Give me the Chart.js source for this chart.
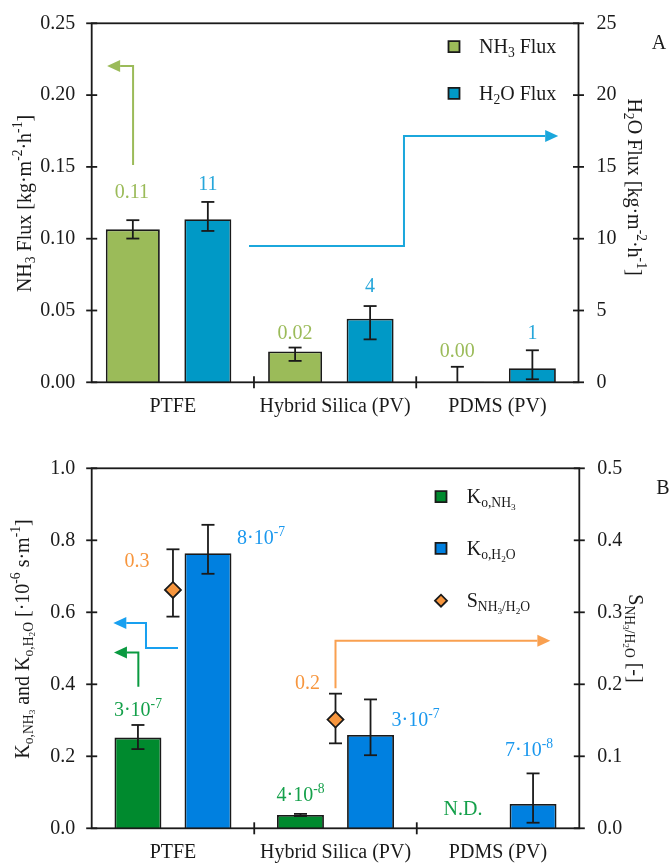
<!DOCTYPE html>
<html>
<head>
<meta charset="utf-8">
<title>NH3 and H2O flux, mass transfer coefficients</title>
<script src="https://cdn.jsdelivr.net/npm/chart.js@4.4.1/dist/chart.umd.min.js"></script>
<style>
	body { margin: 0; background: #fff; }
	canvas { position: absolute; left: 0; }
	#fluxChart { top: 0; }
	#kChart { top: 430px; }
</style>
</head>
<body>
<canvas id="fluxChart" width="669" height="430"></canvas>
<canvas id="kChart" width="669" height="433"></canvas>
<script>
const categories = ['PTFE', 'Hybrid Silica (PV)', 'PDMS (PV)']

// panel A - fluxes
const nh3Flux = [0.1065, 0.0214, 0.0003]
const nh3FluxErrUp = [0.0064, 0.0028, 0.0105]
const nh3FluxErrDown = [0.0064, 0.0065, 0]
const nh3FluxLabels = ['0.11', '0.02', '0.00']
const h2oFlux = [11.35, 4.43, 0.98]
const h2oFluxErrUp = [1.21, 0.88, 1.25]
const h2oFluxErrDown = [0.81, 1.44, 0.77]
const h2oFluxLabels = ['11', '4', '1']
const nh3FluxTicks = [0, 0.05, 0.1, 0.15, 0.2, 0.25]
const h2oFluxTicks = [0, 5, 10, 15, 20, 25]

// panel B - overall mass transfer coefficients and selectivity
const kNh3 = [0.252, 0.037, null]
const kNh3ErrUp = [0.035, 0.003, 0]
const kNh3ErrDown = [0.032, 0.003, 0]
const kNh3Labels = ['3·10^{-7}', '4·10^{-8}', 'N.D.']
const kH2o = [0.764, 0.259, 0.0675]
const kH2oErrUp = [0.079, 0.099, 0.085]
const kH2oErrDown = [0.057, 0.056, 0.052]
const kH2oLabels = ['8·10^{-7}', '3·10^{-7}', '7·10^{-8}']
const selectivity = [0.331, 0.151, null]
const selectivityErrUp = [0.0565, 0.036, 0]
const selectivityErrDown = [0.037, 0.033, 0]
const selectivityLabels = ['0.3', '0.2', '']
const kTicks = [0, 0.2, 0.4, 0.6, 0.8, 1.0]
const selectivityTicks = [0, 0.1, 0.2, 0.3, 0.4, 0.5]

const FONT = '"Liberation Serif", "Times New Roman", serif'
const INK = '#1a1a1a'

// tiny markup: ^{..} superscript, _{..} subscript
function parseRich(str, shift, scale, out) {
	let buf = ''
	let i = 0
	const flush = () => {
		if (buf) out.push({ t: buf, shift, scale })
		buf = ''
	}
	while (i < str.length) {
		const c = str[i]
		if ((c === '^' || c === '_') && str[i + 1] === '{') {
			flush()
			let depth = 1
			let j = i + 2
			while (j < str.length && depth) {
				if (str[j] === '{') depth++
				if (str[j] === '}') depth--
				j++
			}
			const dy = c === '^' ? -0.42 : 0.2
			parseRich(str.slice(i + 2, j - 1), shift + dy * scale, scale * 0.68, out)
			i = j
		} else {
			buf += c
			i++
		}
	}
	flush()
	return out
}

function drawRich(ctx, str, x, y, size, color, align) {
	const parts = parseRich(str, 0, 1, [])
	let width = 0
	parts.forEach(p => {
		ctx.font = `${size * p.scale}px ${FONT}`
		p.w = ctx.measureText(p.t).width
		width += p.w
	})
	let cx = align === 'center' ? x - width / 2 : (align === 'right' ? x - width : x)
	const base = y + size * 0.33
	ctx.fillStyle = color
	ctx.textBaseline = 'alphabetic'
	ctx.textAlign = 'left'
	parts.forEach(p => {
		ctx.font = `${size * p.scale}px ${FONT}`
		ctx.fillText(p.t, cx, base + p.shift * size)
		cx += p.w
	})
}

function line(ctx, x1, y1, x2, y2) {
	ctx.beginPath()
	ctx.moveTo(x1, y1)
	ctx.lineTo(x2, y2)
	ctx.stroke()
}

function drawArrow(ctx, pts, color) {
	const [tx, ty] = pts[pts.length - 1]
	const [px, py] = pts[pts.length - 2]
	const len = Math.hypot(tx - px, ty - py)
	const ux = (tx - px) / len
	const uy = (ty - py) / len
	const head = 13
	const half = 6
	ctx.strokeStyle = color
	ctx.fillStyle = color
	ctx.lineWidth = 2
	ctx.beginPath()
	ctx.moveTo(pts[0][0], pts[0][1])
	pts.slice(1, -1).forEach(p => ctx.lineTo(p[0], p[1]))
	ctx.lineTo(tx - ux * head, ty - uy * head)
	ctx.stroke()
	ctx.beginPath()
	ctx.moveTo(tx, ty)
	ctx.lineTo(tx - ux * head - uy * half, ty - uy * head + ux * half)
	ctx.lineTo(tx - ux * head + uy * half, ty - uy * head - ux * half)
	ctx.closePath()
	ctx.fill()
}

function drawErrors(chart, di) {
	const ds = chart.data.datasets[di]
	if (!ds.errUp) return
	const ctx = chart.ctx
	const s = chart.scales[ds.yAxisID]
	ctx.save()
	ctx.strokeStyle = INK
	ctx.lineWidth = 1.8
	chart.getDatasetMeta(di).data.forEach((el, i) => {
		const v = ds.data[i]
		if (v == null) return
		const top = s.getPixelForValue(v + ds.errUp[i])
		const bot = s.getPixelForValue(v - ds.errDown[i])
		line(ctx, el.x, top, el.x, bot)
		line(ctx, el.x - 6.5, top, el.x + 6.5, top)
		if (ds.errDown[i] > 0) line(ctx, el.x - 6.5, bot, el.x + 6.5, bot)
	})
	ctx.restore()
}

const extras = {
	id: 'extras',
	beforeDatasetDraw(chart, args) {
		if (args.meta.type === 'line') drawErrors(chart, args.index)
	},
	afterDatasetDraw(chart, args) {
		if (args.meta.type === 'bar') drawErrors(chart, args.index)
	},
	afterDraw(chart, args, opts) {
		const ctx = chart.ctx
		const area = chart.chartArea
		const xs = chart.scales.x
		ctx.save()
		ctx.strokeStyle = INK
		ctx.lineWidth = 1.8
		ctx.strokeRect(area.left, area.top, area.right - area.left, area.bottom - area.top)
		;['y', 'y1'].forEach(id => {
			const s = chart.scales[id]
			const ax = id === 'y' ? area.left : area.right
			s.ticks.forEach(t => {
				const py = s.getPixelForValue(t.value)
				line(ctx, ax - 5.5, py, ax + 5.5, py)
			})
		})
		for (let i = 1; i < categories.length; i++) {
			const px = (xs.getPixelForValue(i - 1) + xs.getPixelForValue(i)) / 2
			line(ctx, px, area.bottom - 6, px, area.bottom + 6)
		}

		// value labels, anchored on the top of each error bar
		chart.data.datasets.forEach((ds, di) => {
			if (!ds.valueLabels) return
			const s = chart.scales[ds.yAxisID]
			chart.getDatasetMeta(di).data.forEach((el, i) => {
				const text = ds.valueLabels[i]
				if (!text) return
				const v = ds.data[i]
				const ay = v == null ? s.getPixelForValue(0) : s.getPixelForValue(v + ds.errUp[i])
				const off = ds.labelOffsets[i]
				drawRich(ctx, text, el.x + off[0], ay + off[1], 20, ds.labelColor, 'center')
			})
		})

		// axis arrows, path in (category index, axis value)
		const x0 = xs.getPixelForValue(0)
		const cw = xs.getPixelForValue(1) - x0
		opts.arrows.forEach(ar => {
			const s = chart.scales[ar.axis]
			drawArrow(ctx, ar.path.map(p => [x0 + p[0] * cw, s.getPixelForValue(p[1])]), ar.color)
		})

		// legend
		const lg = opts.legend
		lg.items.forEach(it => {
			ctx.fillStyle = it.fill
			ctx.strokeStyle = INK
			ctx.lineWidth = 1.8
			ctx.beginPath()
			if (it.shape === 'diamond') {
				ctx.moveTo(lg.x - 6, it.y)
				ctx.lineTo(lg.x, it.y - 6)
				ctx.lineTo(lg.x + 6, it.y)
				ctx.lineTo(lg.x, it.y + 6)
				ctx.closePath()
			} else {
				ctx.rect(lg.x - 5.5, it.y - 5.5, 11, 11)
			}
			ctx.fill()
			ctx.stroke()
			drawRich(ctx, it.text, lg.textX, it.y, 20, INK, 'left')
		})

		// axis titles and panel letter
		opts.titles.forEach(t => {
			ctx.save()
			ctx.translate(t.x, t.y)
			ctx.rotate(t.rot * Math.PI / 2)
			drawRich(ctx, t.text, 0, 0, t.size || 20, INK, 'center')
			ctx.restore()
		})
		ctx.restore()
	}
}

function axis(position, ticks, decimals, width, padding) {
	return {
		position,
		min: ticks[0],
		max: ticks[ticks.length - 1],
		afterBuildTicks: s => { s.ticks = ticks.map(v => ({ value: v })) },
		afterFit: s => {
			s.width = width
			// tick padding is only meant to push the labels sideways
			s.paddingTop = 0
			s.paddingBottom = 0
		},
		grid: { display: false, drawTicks: false },
		border: { display: false },
		ticks: {
			padding,
			color: INK,
			font: { family: FONT, size: 20 },
			callback: v => Number(v).toFixed(decimals)
		}
	}
}

function makeChart(id, cfg) {
	return new Chart(document.getElementById(id), {
		type: 'bar',
		data: { labels: categories, datasets: cfg.datasets },
		options: {
			responsive: false,
			animation: false,
			layout: { padding: { top: cfg.top, left: 0, right: 0, bottom: 0 } },
			plugins: { legend: { display: false }, tooltip: { enabled: false }, extras: cfg.extras },
			scales: {
				x: {
					grid: { display: false, drawTicks: false },
					border: { display: false },
					afterFit: s => { s.height = cfg.xHeight },
					ticks: { padding: 12, color: INK, font: { family: FONT, size: 20 } }
				},
				y: axis('left', cfg.leftTicks, cfg.leftDecimals, 91.7, 16.5),
				y1: axis('right', cfg.rightTicks, cfg.rightDecimals, cfg.rightWidth, 18)
			}
		},
		plugins: [extras]
	})
}

makeChart('fluxChart', {
	top: 23.3,
	xHeight: 47.7,
	rightWidth: 90.5,
	leftTicks: nh3FluxTicks,
	leftDecimals: 2,
	rightTicks: h2oFluxTicks,
	rightDecimals: 0,
	datasets: [
		{
			label: 'NH3 Flux',
			data: nh3Flux,
			errUp: nh3FluxErrUp,
			errDown: nh3FluxErrDown,
			valueLabels: nh3FluxLabels,
			labelOffsets: [[-1, -29], [0, -15.6], [0, -16.7]],
			labelColor: '#9bbb59',
			yAxisID: 'y',
			backgroundColor: '#9bbb59',
			borderColor: INK,
			borderWidth: 1.8,
			categoryPercentage: 0.986,
			barPercentage: 0.675
		},
		{
			label: 'H2O Flux',
			data: h2oFlux,
			errUp: h2oFluxErrUp,
			errDown: h2oFluxErrDown,
			valueLabels: h2oFluxLabels,
			labelOffsets: [[0, -19], [0, -21], [0, -17.5]],
			labelColor: '#26a6da',
			yAxisID: 'y1',
			backgroundColor: '#0099c6',
			borderColor: INK,
			borderWidth: 1.8,
			categoryPercentage: 0.863,
			barPercentage: 0.671
		}
	],
	extras: {
		arrows: [
			{ axis: 'y', color: '#9bbb59', path: [[-0.245, 0.1514], [-0.245, 0.2203], [-0.405, 0.2203]] },
			{ axis: 'y1', color: '#1ba7dc', path: [[0.4695, 9.49], [1.4245, 9.49], [1.4245, 17.15], [2.375, 17.15]] }
		],
		legend: {
			x: 454,
			textX: 479,
			items: [
				{ text: 'NH_{3} Flux', fill: '#9bbb59', shape: 'square', y: 46.7 },
				{ text: 'H_{2}O Flux', fill: '#0099c6', shape: 'square', y: 93.3 }
			]
		},
		titles: [
			{ text: 'NH_{3} Flux [kg·m^{-2}·h^{-1}]', x: 24, y: 203.5, rot: -1 },
			{ text: 'H_{2}O Flux [kg·m^{-2}·h^{-1}]', x: 635, y: 187, rot: 1 },
			{ text: 'A', x: 659, y: 42.5, rot: 0 }
		]
	}
})

makeChart('kChart', {
	top: 38.3,
	xHeight: 34.7,
	rightWidth: 89.7,
	leftTicks: kTicks,
	leftDecimals: 1,
	rightTicks: selectivityTicks,
	rightDecimals: 1,
	datasets: [
		{
			type: 'line',
			label: 'S NH3/H2O',
			data: selectivity,
			errUp: selectivityErrUp,
			errDown: selectivityErrDown,
			valueLabels: selectivityLabels,
			labelOffsets: [[-36, 11], [-28, -11], [0, 0]],
			labelColor: '#f7963e',
			yAxisID: 'y1',
			showLine: false,
			pointStyle: 'rectRot',
			pointRadius: 8,
			pointBackgroundColor: '#f7963e',
			pointBorderColor: INK,
			pointBorderWidth: 1.8
		},
		{
			label: 'Ko,NH3',
			data: kNh3,
			errUp: kNh3ErrUp,
			errDown: kNh3ErrDown,
			valueLabels: kNh3Labels,
			labelOffsets: [[0, -15.4], [0, -19.3], [0, -20]],
			labelColor: '#14a04a',
			yAxisID: 'y',
			backgroundColor: '#008a2e',
			borderColor: INK,
			borderWidth: 1.8,
			categoryPercentage: 0.862,
			barPercentage: 0.67
		},
		{
			label: 'Ko,H2O',
			data: kH2o,
			errUp: kH2oErrUp,
			errDown: kH2oErrDown,
			valueLabels: kH2oLabels,
			labelOffsets: [[53, 13], [45, 20], [-4, -24]],
			labelColor: '#1a98ee',
			yAxisID: 'y',
			backgroundColor: '#0080e0',
			borderColor: INK,
			borderWidth: 1.8,
			categoryPercentage: 0.862,
			barPercentage: 0.67
		}
	],
	extras: {
		arrows: [
			{ axis: 'y', color: '#18a0f0', path: [[0.031, 0.501], [-0.166, 0.501], [-0.166, 0.570], [-0.367, 0.570]] },
			{ axis: 'y', color: '#0a9a40', path: [[-0.213, 0.393], [-0.213, 0.488], [-0.363, 0.488]] },
			{ axis: 'y1', color: '#f9a050', path: [[1.0, 0.1944], [1.0, 0.2606], [2.322, 0.2606]] }
		],
		legend: {
			x: 441,
			textX: 466.7,
			items: [
				{ text: 'K_{o,NH_{3}}', fill: '#008a2e', shape: 'square', y: 66.7 },
				{ text: 'K_{o,H_{2}O}', fill: '#0080e0', shape: 'square', y: 118.3 },
				{ text: 'S_{NH_{3}/H_{2}O}', fill: '#f7963e', shape: 'diamond', y: 170.7 }
			]
		},
		titles: [
			{ text: 'K_{o,NH_{3}} and K_{o,H_{2}O} [·10^{-6} s·m^{-1}]', x: 22, y: 209, rot: -1 },
			{ text: 'S_{NH_{3}/H_{2}O} [-]', x: 636, y: 208.5, rot: 1 },
			{ text: 'B', x: 663, y: 57, rot: 0 }
		]
	}
})
</script>
</body>
</html>
